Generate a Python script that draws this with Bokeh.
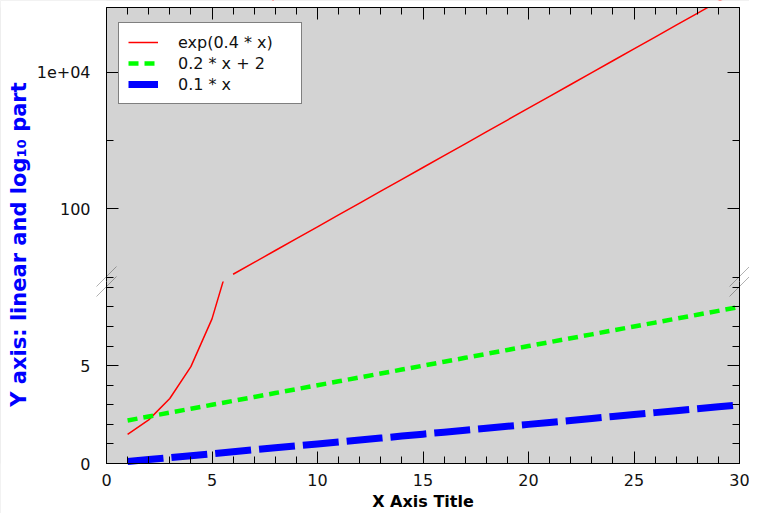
import math
from bokeh.plotting import figure
from bokeh.models import (Range1d, LinearAxis, LogAxis, LogScale, SingleIntervalTicker, FixedTicker,
                          CustomJSTickFormatter, Label, Legend, LegendItem, PolyAnnotation,
                          BoxAnnotation)
from bokeh.core.properties import value
from bokeh.embed import file_html
from bokeh.resources import INLINE

# ---- data ----
x_vals = [1, 2, 3, 4, 5, 6, 7, 8, 9, 10, 11, 12, 13, 14, 15,
          16, 17, 18, 19, 20, 21, 22, 23, 24, 25, 26, 27, 28, 29, 30]
exp_vals = [1.49, 2.23, 3.32, 4.95, 7.39, 11.02, 16.44, 24.53, 36.6, 54.6,
            81.45, 121.5, 181.3, 270.4, 403.4, 601.8, 897.8, 1339.4, 1998.2, 2981.0,
            4447.1, 6634.2, 9897.1, 14765.0, 22026.0, 32860.0, 49021.0, 73130.0, 109098.0, 162755.0]
lin_vals = [2.2, 2.4, 2.6, 2.8, 3.0, 3.2, 3.4, 3.6, 3.8, 4.0,
            4.2, 4.4, 4.6, 4.8, 5.0, 5.2, 5.4, 5.6, 5.8, 6.0,
            6.2, 6.4, 6.6, 6.8, 7.0, 7.2, 7.4, 7.6, 7.8, 8.0]
prop_vals = [0.1, 0.2, 0.3, 0.4, 0.5, 0.6, 0.7, 0.8, 0.9, 1.0,
             1.1, 1.2, 1.3, 1.4, 1.5, 1.6, 1.7, 1.8, 1.9, 2.0,
             2.1, 2.2, 2.3, 2.4, 2.5, 2.6, 2.7, 2.8, 2.9, 3.0]
series_labels = ["exp(0.4 * x)", "0.2 * x + 2", "0.1 * x"]
x_title = "X Axis Title"
y_title = "Y axis: linear and log\u2081\u2080 part"
x_tick_values = [0, 5, 10, 15, 20, 25, 30]
x_tick_labels = ["0", "5", "10", "15", "20", "25", "30"]
lin_tick_values = [0, 5]
lin_tick_labels = ["0", "5"]
lin_minor_values = [1, 2, 3, 4, 6, 7, 8, 9]
log_tick_values = [100, 10000]
log_tick_labels = ["100", "1e+04"]
log_minor_values = [10, 1000]
X_MIN, X_MAX = 0, 30
LIN_TOP = 9.3                  # top of the linear part
LOG_LO, LOG_HI = 8.63, 8.9e4   # visible extent of the log part
lin_break = 10.0               # values at/above this are drawn in the log part

FONT = "DejaVu Sans"
BG = "#d3d3d3"
W, H = 749, 513
PAD_L, PAD_R, PAD_T, PAD_B = 106, 10, 7, 50   # white margins around the axes box
LIN_H = 182                                    # pixels of the linear part
LOG_H = H - PAD_T - PAD_B - LIN_H              # pixels of the log part

ppx = (W - PAD_L - PAD_R) / (X_MAX - X_MIN)
ppy = LIN_H / LIN_TOP
x_range = Range1d(X_MIN - PAD_L / ppx, X_MAX + PAD_R / ppx)
y_range = Range1d(-PAD_B / ppy, (H - PAD_B) / ppy)
top_loc = (H - PAD_B - PAD_T) / ppy            # top edge of the axes box, linear units
dec = (math.log10(LOG_HI) - math.log10(LOG_LO)) / LOG_H
log_range = Range1d(10 ** (math.log10(LOG_LO) - (PAD_B + LIN_H) * dec),
                    10 ** (math.log10(LOG_HI) + PAD_T * dec))

empty_fmt = CustomJSTickFormatter(code="return '';")
TXT = dict(text_font=value(FONT), text_font_size="16px", text_color="#111111")


def style_axis(ax):
    ax.axis_line_color = "black"
    ax.axis_line_width = 1
    ax.major_tick_in = 12
    ax.major_tick_out = 0
    ax.minor_tick_in = 7
    ax.minor_tick_out = 0
    ax.major_tick_line_color = "black"
    ax.minor_tick_line_color = "black"
    ax.major_label_standoff = 0
    ax.major_label_text_font_size = "16px"
    ax.formatter = empty_fmt
    return ax


p = figure(width=W, height=H, x_range=x_range, y_range=y_range,
           x_axis_location=None, y_axis_location=None,
           output_backend="svg", toolbar_location=None, min_border=0,
           min_border_left=0, min_border_right=0, min_border_top=0, min_border_bottom=0,
           background_fill_color=BG, border_fill_color="white",
           outline_line_color=None)
p.extra_y_ranges = {"log": log_range}
p.extra_y_scales = {"log": LogScale()}
p.grid.visible = False

# white margins around the axes box
for kw in (dict(right=X_MIN), dict(left=X_MAX), dict(top=0)):
    p.add_layout(BoxAnnotation(fill_color="white", fill_alpha=1, line_color=None,
                               level="underlay", **kw))

# axes (rules and ticks)
p.add_layout(style_axis(LinearAxis(ticker=SingleIntervalTicker(interval=5, num_minor_ticks=5),
                                   bounds=(X_MIN, X_MAX), fixed_location=0)), "below")
p.add_layout(style_axis(LinearAxis(ticker=SingleIntervalTicker(interval=5, num_minor_ticks=5),
                                   bounds=(X_MIN, X_MAX), fixed_location=top_loc)), "above")
for loc, side in ((X_MIN, "left"), (X_MAX, "right")):
    p.add_layout(style_axis(LinearAxis(
        ticker=FixedTicker(ticks=lin_tick_values, minor_ticks=lin_minor_values),
        bounds=(0, LIN_TOP), fixed_location=loc)), side)
    p.add_layout(style_axis(LogAxis(
        y_range_name="log",
        ticker=FixedTicker(ticks=log_tick_values, minor_ticks=log_minor_values),
        bounds=(LOG_LO, LOG_HI), fixed_location=loc)), side)

# linear part
r_red = p.line(x_vals, exp_vals, line_color="#ff0000", line_width=1.5)
r_green = p.line(x_vals, lin_vals, line_color="#00ff00", line_width=4.5, line_dash="10 6")
r_blue = p.line(x_vals, prop_vals, line_color="#0000ff", line_width=7, line_dash="36 8")
# hide linear-part drawing above the break
p.renderers.append(BoxAnnotation(bottom=LIN_TOP, top=top_loc, left=X_MIN, right=X_MAX,
                                 fill_color=BG, fill_alpha=1, line_color=None, level="glyph"))
# log part
hi_x = [x for x, v in zip(x_vals, exp_vals) if v >= lin_break]
hi_y = [v for v in exp_vals if v >= lin_break]
p.line(hi_x, hi_y, line_color="#ff0000", line_width=1.5, y_range_name="log")
# white margin above the axes box (over the lines)
p.renderers.append(BoxAnnotation(bottom=top_loc, fill_color="white", fill_alpha=1,
                                 line_color=None, level="glyph"))

# tick labels
p.text(x=[X_MIN] * len(lin_tick_values), y=lin_tick_values, text=lin_tick_labels,
       x_offset=-16, text_align="right", text_baseline="middle", **TXT)
p.text(x=[X_MIN] * len(log_tick_values), y=log_tick_values, text=log_tick_labels,
       x_offset=-16, text_align="right", text_baseline="middle", y_range_name="log", **TXT)
p.text(x=x_tick_values, y=[0] * len(x_tick_values), text=x_tick_labels,
       y_offset=10, text_align="center", text_baseline="top", **TXT)

# axis titles
p.text(x=[(X_MIN + X_MAX) / 2], y=[0], text=[x_title], y_offset=28,
       text_align="center", text_baseline="top", text_font=value(FONT),
       text_font_size="16px", text_font_style="bold", text_color="black")
p.add_layout(Label(x=X_MIN - (PAD_L - 18) / ppx, y=(H - PAD_B - 244) / ppy, text=y_title,
                   angle=math.pi / 2, text_align="center", text_baseline="middle",
                   text_font=FONT, text_font_size="21px", text_font_style="bold",
                   text_color="#0000ff"))

# break marks at both y axes
seam = PAD_B + LIN_H
for cx in (PAD_L, W - PAD_R):
    for dy in (0, -10):
        p.add_layout(PolyAnnotation(
            xs=[cx - 10, cx + 10], ys=[seam + dy - 5, seam + dy + 15],
            xs_units="screen", ys_units="screen",
            fill_alpha=0, line_color="black", line_width=1))

legend = Legend(items=[LegendItem(label=series_labels[0], renderers=[r_red]),
                       LegendItem(label=series_labels[1], renderers=[r_green]),
                       LegendItem(label=series_labels[2], renderers=[r_blue])],
                location=(118, H - 104), margin=0, padding=9, spacing=1,
                glyph_width=30, glyph_height=20, label_height=20, label_width=114,
                label_standoff=20, label_text_font=FONT, label_text_font_size="16px",
                label_text_color="#111111",
                border_line_color="black", border_line_width=1,
                background_fill_color="white", background_fill_alpha=1)
p.add_layout(legend)

open("out.html", "w").write(file_html(p, INLINE))
